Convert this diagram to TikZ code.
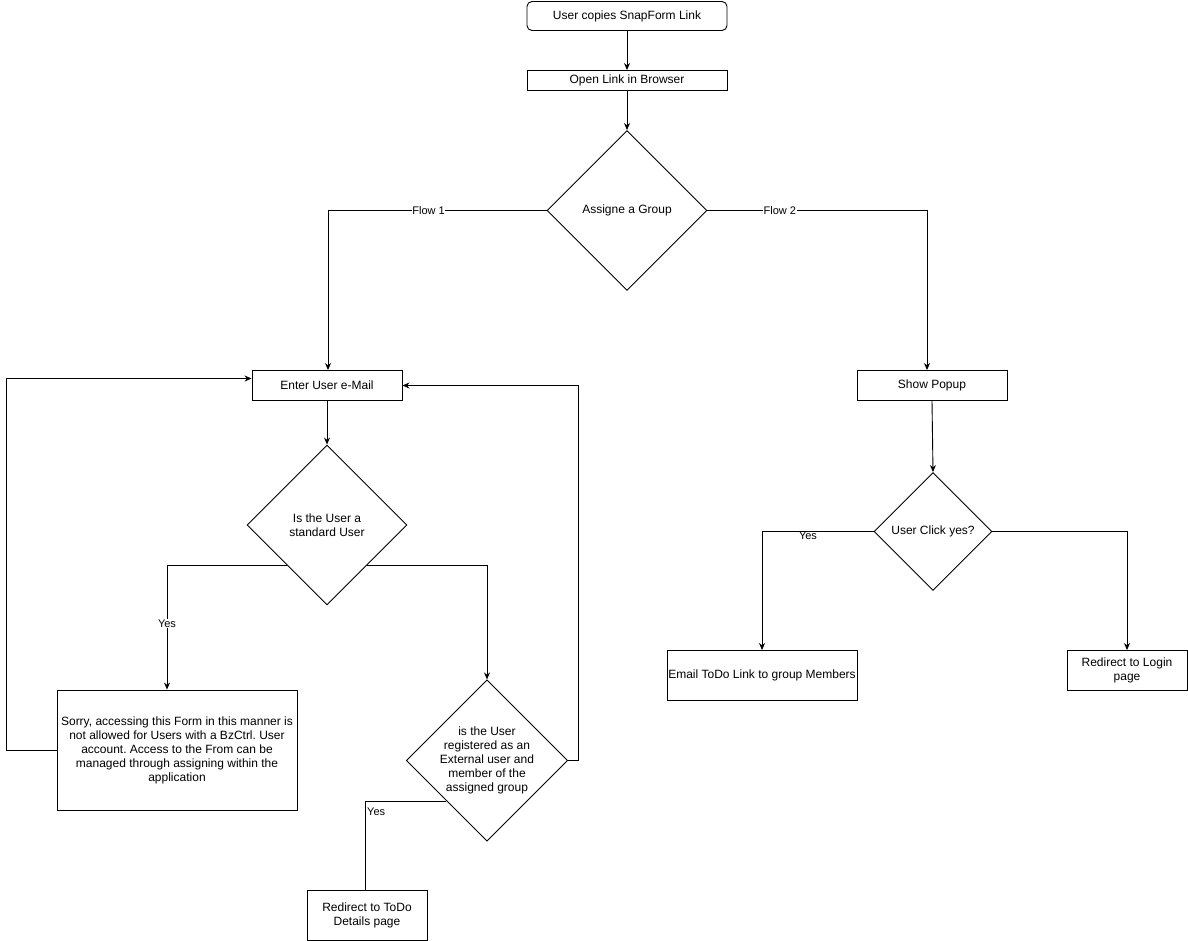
\documentclass[tikz,border=0pt]{standalone}
\usepackage{fontspec}
\setmainfont{Liberation Sans}
\usetikzlibrary{shapes.geometric,arrows.meta}
\frenchspacing
\begin{document}
\begin{tikzpicture}[x=1pt,y=-1pt,
  every node/.style={font=\fontsize{12}{14}\selectfont, inner sep=0pt},
  box/.style={draw, line width=0.9pt, align=center},
  dec/.style={draw, diamond, line width=0.9pt, align=center, aspect=1},
  conn/.style={line width=0.9pt, -{Stealth[length=7pt,width=6pt]}},
  plain/.style={line width=0.9pt},
  lbl/.style={font=\fontsize{11}{13}\selectfont, fill=white, inner sep=0.5pt}]
\useasboundingbox (0,0) rectangle (1188,941);
% nodes
\node[box, rounded corners=5pt, minimum width=200pt, minimum height=29pt] (start) at (627,16) {User copies SnapForm Link};
\node[box, minimum width=200pt, minimum height=20pt] (open) at (627,80.5) {Open Link in Browser};
\node[dec, minimum width=160pt, minimum height=160pt] (d1) at (627,210.5) {Assigne a Group};
\node[box, minimum width=150pt, minimum height=30pt] (enter) at (327,385.5) {Enter User e-Mail};
\node[dec, minimum width=160pt, minimum height=160pt] (d2) at (327,525) {Is the User a\\standard User};
\node[box, minimum width=240pt, minimum height=120pt] (sorry) at (177,750) {Sorry, accessing this Form in this manner is\\not allowed for Users with a BzCtrl. User\\account. Access to the From can be\\managed through assigning within the\\application};
\node[dec, minimum width=160pt, minimum height=160pt] (d3) at (487,760.5) {is the User\\registered as an\\External user and\\member of the\\assigned group};
\node[box, minimum width=120pt, minimum height=50pt] (todo) at (367,915.5) {Redirect to ToDo\\Details page};
\node[box, minimum width=150pt, minimum height=30pt] (popup) at (932,385.5) {Show Popup};
\node[dec, minimum width=118pt, minimum height=118pt] (d4) at (933,531.5) {User Click yes?};
\node[box, minimum width=190pt, minimum height=50pt] (email) at (762,675.5) {Email ToDo Link to group Members};
\node[box, minimum width=120pt, minimum height=40pt] (login) at (1127,670.5) {Redirect to Login\\page};
% connectors
\draw[conn] (start) -- (open);
\draw[conn] (open) -- (d1);
\draw[conn] (d1.west) -| node[lbl, pos=0.27] {Flow 1} ([xshift=1pt]enter.north);
\draw[conn] (d1.east) -| node[lbl, pos=0.165] {Flow 2} ([xshift=-5pt]popup.north);
\draw[conn] (enter) -- (d2);
\draw[conn] (d2.south west) -| node[lbl, pos=0.735] {Yes} ([xshift=-10pt]sorry.north);
\draw[conn] (d2.south east) -| (d3.north);
\draw[conn] (sorry.west) -- ++(-50,0) |- ([yshift=7pt]enter.west);
\draw[conn] (d3.east) -- ++(10,0) |- (enter.east);
\draw[plain] (d3.south west) -| ([xshift=-2pt]todo.north);
\node[font=\fontsize{11}{13}\selectfont, anchor=north west] (yes3) at (367,808) {Yes};
\draw[conn] (popup.south) -- (d4.north);
\draw[conn] (d4.west) -| (email.north);
\node[font=\fontsize{11}{13}\selectfont] (yes4) at (808,536) {Yes};
\draw[conn] (d4.east) -| (login.north);
\end{tikzpicture}
\end{document}
